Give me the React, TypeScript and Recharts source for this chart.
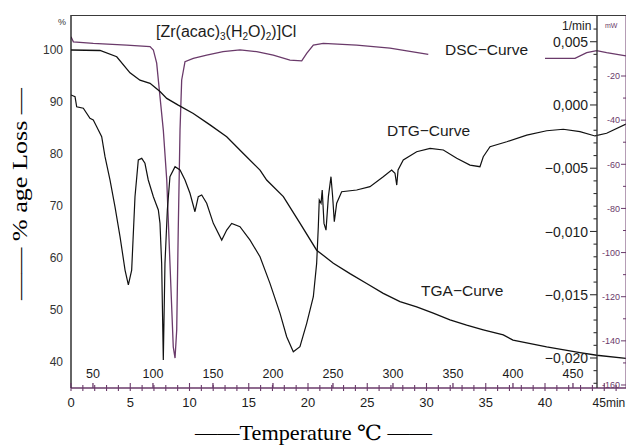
import React from 'react';
import { LineChart, Line, XAxis, YAxis } from 'recharts';

const W = 626;
const H = 446;
const PURPLE = '#6a3a6a';
const INK = '#1c1c1c';
const SANS = '"Liberation Sans", Arial, sans-serif';
const SERIF = '"Liberation Serif", "DejaVu Serif", serif';

// ---- tick values / labels ----
const timeTicks = [0, 1, 2, 3, 4, 5, 6, 7, 8, 9, 10, 11, 12, 13, 14, 15, 16, 17, 18, 19, 20, 21, 22, 23, 24, 25, 26, 27, 28, 29, 30, 31, 32, 33, 34, 35, 36, 37, 38, 39, 40, 41, 42, 43, 44, 45, 46];
const timeLabels = [0, 5, 10, 15, 20, 25, 30, 35, 40, 45];
const tempTicks = [50, 100, 150, 200, 250, 300, 350, 400, 450];
const tgaTicks = [40, 50, 60, 70, 80, 90, 100];
const dtgTicks = [0.006, 0.005, 0.004, 0.003, 0.002, 0.001, 0, -0.001, -0.002, -0.003, -0.004, -0.005, -0.006, -0.007, -0.008, -0.009, -0.01, -0.011, -0.012, -0.013, -0.014, -0.015, -0.016, -0.017, -0.018, -0.019, -0.02, -0.021, -0.022];
const dtgLabels = [0.005, 0, -0.005, -0.01, -0.015, -0.02];
const dscTicks = [-20, -30, -40, -50, -60, -70, -80, -90, -100, -110, -120, -130, -140, -150, -160];
const dscLabels = [-20, -40, -60, -80, -100, -120, -140, -160];

// ---- series (time in min, value in axis units) ----
const tgaPoints: [number, number][] = [
  [0, 100], [2.45, 99.9], [3.86, 98.7], [4.98, 95.6], [5.82, 94.2], [6.67, 93.6], [7.51, 92.0],
  [8.08, 90.7], [9.05, 89.4], [10.32, 87.8], [11.73, 85.6], [13.14, 83.3], [14.54, 80.1],
  [15.95, 76.9], [16.51, 75.0], [17.92, 71.8], [19.32, 66.7], [20.73, 61.5], [22.14, 59.0],
  [23.54, 57.0], [24.95, 55.1], [26.35, 53.2], [27.76, 51.6], [29.17, 50.6], [30.57, 49.4],
  [31.98, 48.1], [33.39, 47.1], [34.79, 46.2], [36.48, 45.2], [37.3, 44.2], [40.14, 42.9],
  [42.95, 41.8], [44.36, 41.3], [46.83, 40.7],
];

const dtgPoints: [number, number][] = [
  [0, 0.00079], [0.34, 0.00065], [0.48, -0.00014], [1.04, -0.00026], [1.6, -0.00106], [1.88, -0.00119],
  [2.17, -0.00172], [2.59, -0.00251], [2.87, -0.00409], [3.29, -0.00593], [3.71, -0.00804],
  [4.14, -0.01042], [4.56, -0.01305], [4.84, -0.01423], [5.12, -0.01305], [5.4, -0.00725],
  [5.68, -0.00435], [5.97, -0.00422], [6.24, -0.00461], [6.52, -0.00593], [6.95, -0.00725],
  [7.37, -0.0083], [7.51, -0.00936], [7.65, -0.01252], [7.79, -0.02016], [7.93, -0.01252],
  [8.13, -0.0083], [8.35, -0.00567], [8.78, -0.00488], [9.2, -0.00514], [9.62, -0.00593],
  [10.04, -0.00698], [10.46, -0.00844], [10.74, -0.00725], [11.03, -0.00712], [11.45, -0.00777],
  [12.01, -0.00936], [12.72, -0.01068], [13.14, -0.00989], [13.56, -0.00936], [14.26, -0.00962],
  [15.11, -0.01068], [15.95, -0.012], [16.79, -0.0141], [17.64, -0.01647], [18.2, -0.01832],
  [18.76, -0.01951], [19.32, -0.01911], [19.89, -0.01726], [20.45, -0.01516], [20.73, -0.01252],
  [20.87, -0.00962], [20.95, -0.00751], [21.1, -0.00777], [21.2, -0.00672], [21.35, -0.00936],
  [21.52, -0.00989], [21.72, -0.00725], [21.94, -0.00567], [22.08, -0.00725], [22.22, -0.00923],
  [22.42, -0.00777], [22.84, -0.00686], [24.11, -0.00672], [25.23, -0.00646], [26.35, -0.00567],
  [27.06, -0.00514], [27.34, -0.0054], [27.49, -0.00633], [27.6, -0.00514], [28.04, -0.00435],
  [29.17, -0.0037], [30.3, -0.00343], [31.42, -0.00356], [32.55, -0.00422], [33.67, -0.00475],
  [34.51, -0.00488], [34.79, -0.00409], [35.36, -0.0033], [36.77, -0.00291], [38.46, -0.00238],
  [40.14, -0.00204], [41.54, -0.00192], [42.95, -0.00211], [44.22, -0.00245], [45.2, -0.00224],
  [46.83, -0.00151],
];

const dscPoints: [number, number | null][] = [
  [0, -2.2], [0.2, -4.5], [1.88, -5.2], [4.7, -6.0], [6.67, -6.7], [6.95, -8.2], [7.23, -14.2],
  [7.51, -29.4], [7.79, -44.5], [8.08, -67.1], [8.35, -104.7], [8.63, -142.7], [8.78, -147.8],
  [8.92, -135.1], [9.05, -89.8], [9.2, -44.5], [9.34, -21.8], [9.62, -13.5], [10.32, -12.0],
  [11.45, -10.5], [12.83, -9.0], [14.26, -8.2], [15.67, -9.0], [17.07, -10.5], [18.48, -12.8],
  [19.47, -13.1], [19.89, -9.7], [20.45, -6.0], [21.29, -5.2], [24.11, -6.0], [26.92, -7.4],
  [30.15, -10.2], [35, null], [40.0, -12.0], [42.53, -12.0], [43.52, -9.4], [44.36, -8.5],
  [45.2, -9.4], [46.83, -10.9],
];

const toRows = (pts: [number, number | null][]) => pts.map(([t, v]) => ({ t, v }));
const tgaRows = toRows(tgaPoints);
const dtgRows = toRows(dtgPoints);
const dscRows = toRows(dscPoints);
// carrier rows so the temperature scale knows its tick values (nothing is drawn from them)
const tempRows = tempTicks.map((T) => ({ T, v: null }));

const TEMP_DOMAIN: [number, number] = [31.7, 494.2];
const isIn = (arr: number[], v: number) => arr.some((m) => Math.abs(m - v) < 1e-9);
const fmtDtg = (v: number) => {
  if (Math.abs(v) < 1e-9) return '0,000';
  const s = Math.abs(v).toFixed(3).replace('.', ',');
  return v < 0 ? '\u2212' + s : s;
};

const TimeTick = (props: any) => {
  const { x, y, payload } = props;
  const v = payload.value;
  const axisY = y - 10;
  const five = isIn(timeLabels, v);
  const last = v === 45;
  return (
    <g>
      <line x1={x} x2={x} y1={axisY - (five ? 5 : 3)} y2={axisY + 3} stroke={PURPLE} strokeWidth={1.1} />
      {five && (
        <text x={last ? x + 21 : x} y={y} dy="0.71em" textAnchor={last ? 'end' : 'middle'}
          fontSize={last ? 12 : 13} fontFamily={SANS} fill={INK}>
          {last ? '45min' : String(v)}
        </text>
      )}
    </g>
  );
};

const DtgTick = (props: any) => {
  const { x, y, payload } = props;
  const v = payload.value;
  const axisX = x + 9;
  const major = isIn(dtgLabels, v);
  return (
    <g>
      <line x1={axisX - (major ? 7 : 3.5)} x2={axisX} y1={y} y2={y} stroke="#333" strokeWidth={1.1} />
      {major && (
        <text x={x} y={y} dy="0.36em" textAnchor="end" fontSize={14} fontFamily={SANS} fill={INK}>
          {fmtDtg(v)}
        </text>
      )}
    </g>
  );
};

const DscTick = (props: any) => {
  const { x, y, payload } = props;
  const v = payload.value;
  const axisX = x + 6;
  const major = isIn(dscLabels, v);
  return (
    <g>
      <line x1={axisX - (major ? 5 : 3)} x2={axisX} y1={y} y2={y} stroke={PURPLE} strokeWidth={1} />
      {major && (
        <text x={x} y={y} dy="0.36em" textAnchor="end" fontSize={9} fontFamily={SANS} fill={PURPLE}>
          {String(v)}
        </text>
      )}
    </g>
  );
};

export default function App() {
  return (
    <div style={{ position: 'absolute', left: 0, top: 0, width: W, height: H, background: '#fff', overflow: 'hidden' }}>
      <LineChart width={W} height={H} margin={{ top: 15, right: 0, bottom: 28, left: 0 }}>
        <XAxis xAxisId="time" type="number" dataKey="t" domain={[0, 46.835]} allowDataOverflow
          ticks={timeTicks} interval={0} height={30} tickSize={3} tickMargin={7}
          tickLine={false} tick={<TimeTick />} stroke={PURPLE} strokeWidth={1.3} />
        <XAxis xAxisId="temp" type="number" dataKey="T" orientation="bottom" mirror height={1}
          domain={TEMP_DOMAIN} allowDataOverflow ticks={tempTicks} interval={0}
          axisLine={false} tickSize={5} tickMargin={5} tickLine={{ stroke: PURPLE, strokeWidth: 1.3 }}
          tick={{ fontSize: 12.5, fontFamily: SANS, fill: INK }} />
        <YAxis yAxisId="tga" orientation="left" width={71} type="number" domain={[35, 106.73]}
          allowDataOverflow ticks={tgaTicks} interval={0} tickLine={false} tickSize={6} tickMargin={2}
          stroke="#111" strokeWidth={1.3} tick={{ fontSize: 12, fontFamily: SANS, fill: '#333' }} />
        <YAxis yAxisId="dsc" orientation="right" mirror width={29} type="number"
          domain={[-161.36, 7.64]} allowDataOverflow ticks={dscTicks} interval={0}
          tickLine={false} tickSize={5} tickMargin={1} tick={<DscTick />} stroke={PURPLE} />
        <YAxis yAxisId="dtg" orientation="right" mirror width={60} type="number"
          domain={[-0.022372, 0.0071107]} allowDataOverflow ticks={dtgTicks} interval={0}
          tickLine={false} tickSize={7} tickMargin={2} tick={<DtgTick />} stroke="#333" strokeWidth={1.4} />
        <Line xAxisId="temp" yAxisId="tga" data={tempRows} dataKey="v" dot={false} stroke="none"
          isAnimationActive={false} legendType="none" />
        <Line xAxisId="time" yAxisId="dsc" data={dscRows} dataKey="v" type="linear" dot={false}
          stroke={PURPLE} strokeWidth={1.3} isAnimationActive={false} connectNulls={false} />
        <Line xAxisId="time" yAxisId="tga" data={tgaRows} dataKey="v" type="linear" dot={false}
          stroke="#111" strokeWidth={1.3} isAnimationActive={false} />
        <Line xAxisId="time" yAxisId="dtg" data={dtgRows} dataKey="v" type="linear" dot={false}
          stroke="#111" strokeWidth={1.2} isAnimationActive={false} />
      </LineChart>
      {/* top frame rule of the plot */}
      <div style={{ position: 'absolute', left: 71, top: 14.5, width: W - 71, height: 0, borderTop: '1.6px solid #3a3a3a' }} />
      <svg width={W} height={H} style={{ position: 'absolute', left: 0, top: 0, pointerEvents: 'none' }}>
        <text x={156} y={36.5} fontSize={16} fontFamily={SANS} fill={INK}>
          [Zr(acac)<tspan fontSize={10} dy={3}>3</tspan>
          <tspan dy={-3}>(H</tspan><tspan fontSize={10} dy={3}>2</tspan>
          <tspan dy={-3}>O)</tspan><tspan fontSize={10} dy={3}>2</tspan>
          <tspan dy={-3}>)]Cl</tspan>
        </text>
        <text x={445} y={55} fontSize={15.5} fontFamily={SANS} fill={INK}>DSC{'\u2212'}Curve</text>
        <text x={387} y={136} fontSize={15.5} fontFamily={SANS} fill={INK}>DTG{'\u2212'}Curve</text>
        <text x={421} y={296} fontSize={15.5} fontFamily={SANS} fill={INK}>TGA{'\u2212'}Curve</text>
        <text x={58} y={25} fontSize={9} fontFamily={SANS} fill="#333">%</text>
        <text x={562} y={29.5} fontSize={12} fontFamily={SANS} fill={INK}>1/min</text>
        <text x={605} y={28} fontSize={7} fontFamily={SANS} fill={PURPLE}>mW</text>
        <text x={27} y={194} transform="rotate(-90, 27, 194)" textAnchor="middle" fontSize={21}
          fontFamily={SERIF} fill="#000" textLength={212} lengthAdjust="spacingAndGlyphs">
          {'\u2014\u2014 % age Loss \u2014'}
        </text>
        <text x={195} y={440} fontSize={21} fontFamily={SERIF} fill="#000" textLength={237}
          lengthAdjust="spacingAndGlyphs">
          {'\u2014\u2014Temperature \u2103 \u2014\u2014'}
        </text>
      </svg>
    </div>
  );
}
